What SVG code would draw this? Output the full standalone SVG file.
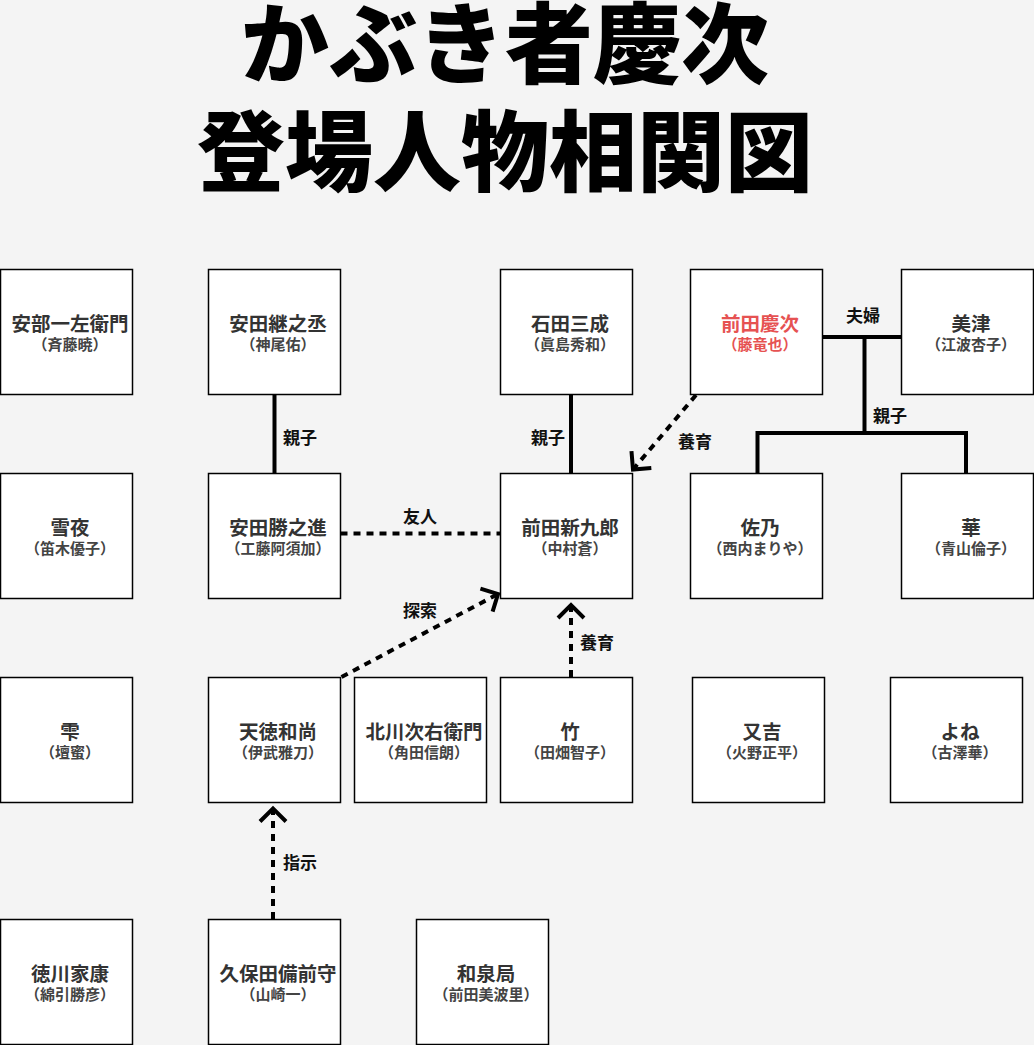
<svg xmlns="http://www.w3.org/2000/svg" width="1034" height="1045" viewBox="0 0 1034 1045">
<style>
text { font-family: "Noto Sans CJK JP", "Noto Sans CJK SC", sans-serif; text-anchor: middle; }
.title { font-size: 88px; font-weight: 900; fill: #000; }
.node rect { fill: #fff; stroke: #000; stroke-width: 1.5; }
.name { font-size: 19.5px; font-weight: 700; fill: #333; }
.sub { font-size: 15px; font-weight: 700; fill: #444; }
.red .name, .red .sub { fill: #e65252; }
.lbl { font-size: 17px; font-weight: 700; fill: #111; }
.ln { fill: none; stroke: #000; stroke-width: 4; }
.dash { stroke-dasharray: 7 6; }
</style>
<defs>
<marker id="chev" markerUnits="userSpaceOnUse" markerWidth="40" markerHeight="40" refX="20" refY="20" orient="auto" overflow="visible">
<path d="M7,7 L20,20 L7,33" fill="none" stroke="#000" stroke-width="4" stroke-dasharray="none" stroke-linejoin="miter"/>
</marker>
</defs>
<rect width="1034" height="1045" fill="#f4f4f4"/>
<g id="title">
<text class="title" x="505" y="76">かぶき者慶次</text>
<text class="title" x="505" y="184">登場人物相関図</text>
</g>
<g id="connectors">
<path class="ln" d="M274.5,394.5 V473.5"/>
<text class="lbl" x="300" y="444">親子</text>
<path class="ln" d="M571,394.5 V473.5"/>
<text class="lbl" x="548" y="444">親子</text>
<path class="ln" d="M822.5,337 H901.5"/>
<text class="lbl" x="863" y="321.5">夫婦</text>
<path class="ln" d="M864.5,337 V433"/>
<path class="ln" d="M757.5,473.5 V433 H966 V473.5"/>
<text class="lbl" x="890" y="421.5">親子</text>
<path class="ln dash" d="M340.5,533.5 H500.5"/>
<text class="lbl" x="420" y="522.5">友人</text>
<path class="ln dash" d="M696,395 L633,469.5" marker-end="url(#chev)"/>
<text class="lbl" x="695" y="447.5">養育</text>
<path class="ln dash" d="M341.5,677 L498,594" marker-end="url(#chev)"/>
<text class="lbl" x="420" y="616.5">探索</text>
<path class="ln dash" d="M571,677 V605" marker-end="url(#chev)"/>
<text class="lbl" x="597" y="648.5">養育</text>
<path class="ln dash" d="M273,919 V808.5" marker-end="url(#chev)"/>
<text class="lbl" x="300" y="868.5">指示</text>
</g>
<g id="n-abe" class="node" transform="translate(0.5,269.5)"><rect width="132" height="125"/><text class="name" x="69.5" y="61">安部一左衛門</text><text class="sub" x="69.5" y="80">（斉藤暁）</text></g>
<g id="n-tsuginojo" class="node" transform="translate(208.5,269.5)"><rect width="132" height="125"/><text class="name" x="69.5" y="61">安田継之丞</text><text class="sub" x="69.5" y="80">（神尾佑）</text></g>
<g id="n-mitsunari" class="node" transform="translate(500.5,269.5)"><rect width="132" height="125"/><text class="name" x="69.5" y="61">石田三成</text><text class="sub" x="69.5" y="80">（眞島秀和）</text></g>
<g id="n-keiji" class="node red" transform="translate(690.5,269.5)"><rect width="132" height="125"/><text class="name" x="69.5" y="61">前田慶次</text><text class="sub" x="69.5" y="80">（藤竜也）</text></g>
<g id="n-mitsu" class="node" transform="translate(901.5,269.5)"><rect width="132" height="125"/><text class="name" x="69.5" y="61">美津</text><text class="sub" x="69.5" y="80">（江波杏子）</text></g>
<g id="n-yukiyo" class="node" transform="translate(0.5,473.5)"><rect width="132" height="125"/><text class="name" x="69.5" y="61">雪夜</text><text class="sub" x="69.5" y="80">（笛木優子）</text></g>
<g id="n-katsunoshin" class="node" transform="translate(208.5,473.5)"><rect width="132" height="125"/><text class="name" x="69.5" y="61">安田勝之進</text><text class="sub" x="69.5" y="80">（工藤阿須加）</text></g>
<g id="n-shinkuro" class="node" transform="translate(500.5,473.5)"><rect width="132" height="125"/><text class="name" x="69.5" y="61">前田新九郎</text><text class="sub" x="69.5" y="80">（中村蒼）</text></g>
<g id="n-sano" class="node" transform="translate(690.5,473.5)"><rect width="132" height="125"/><text class="name" x="69.5" y="61">佐乃</text><text class="sub" x="69.5" y="80">（西内まりや）</text></g>
<g id="n-hana" class="node" transform="translate(901.5,473.5)"><rect width="132" height="125"/><text class="name" x="69.5" y="61">華</text><text class="sub" x="69.5" y="80">（青山倫子）</text></g>
<g id="n-shizuku" class="node" transform="translate(0.5,677.5)"><rect width="132" height="125"/><text class="name" x="69.5" y="61">雫</text><text class="sub" x="69.5" y="80">（壇蜜）</text></g>
<g id="n-tentoku" class="node" transform="translate(208.5,677.5)"><rect width="132" height="125"/><text class="name" x="69.5" y="61">天徳和尚</text><text class="sub" x="69.5" y="80">（伊武雅刀）</text></g>
<g id="n-kitagawa" class="node" transform="translate(354.5,677.5)"><rect width="132" height="125"/><text class="name" x="69.5" y="61">北川次右衛門</text><text class="sub" x="69.5" y="80">（角田信朗）</text></g>
<g id="n-take" class="node" transform="translate(500.5,677.5)"><rect width="132" height="125"/><text class="name" x="69.5" y="61">竹</text><text class="sub" x="69.5" y="80">（田畑智子）</text></g>
<g id="n-matakichi" class="node" transform="translate(692.5,677.5)"><rect width="132" height="125"/><text class="name" x="69.5" y="61">又吉</text><text class="sub" x="69.5" y="80">（火野正平）</text></g>
<g id="n-yone" class="node" transform="translate(890.5,677.5)"><rect width="132" height="125"/><text class="name" x="69.5" y="61">よね</text><text class="sub" x="69.5" y="80">（古澤華）</text></g>
<g id="n-ieyasu" class="node" transform="translate(0.5,919.5)"><rect width="132" height="125"/><text class="name" x="69.5" y="61">徳川家康</text><text class="sub" x="69.5" y="80">（綿引勝彦）</text></g>
<g id="n-kubota" class="node" transform="translate(208.5,919.5)"><rect width="132" height="125"/><text class="name" x="69.5" y="61">久保田備前守</text><text class="sub" x="69.5" y="80">（山崎一）</text></g>
<g id="n-izumi" class="node" transform="translate(416.5,919.5)"><rect width="132" height="125"/><text class="name" x="69.5" y="61">和泉局</text><text class="sub" x="69.5" y="80">（前田美波里）</text></g>
</svg>
